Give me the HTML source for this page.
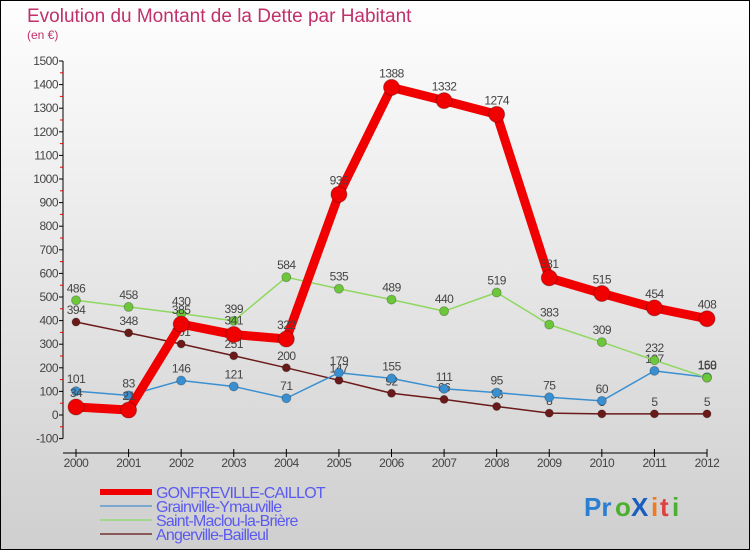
<!DOCTYPE html>
<html><head><meta charset="utf-8"><style>
body{margin:0}
#wrap{position:relative;width:748px;height:548px;border:1px solid #000;background:linear-gradient(#fefefe,#f0f0f0 30%,#d8d8d8 80%,#cfcfcf);overflow:hidden;font-family:"Liberation Sans",sans-serif}
</style></head><body>
<div id="wrap">
<svg id="svg" width="748" height="548" xmlns="http://www.w3.org/2000/svg">
<text x="26" y="21" font-size="19" fill="#c0306a">Evolution du Montant de la Dette par Habitant</text>
<text x="26" y="38" font-size="12" fill="#c0306a">(en €)</text>
<g id="axes"></g><g id="series"></g><g id="legend"></g>
<g font-size="26" font-weight="bold">
<text x="583" y="515" fill="#2a7fd0">Pr</text><text x="614" y="515" fill="#4caf30">o</text><text x="630" y="515" fill="#1a5fc0">X</text><text x="650" y="515" fill="#f07a20">i</text><text x="659" y="515" fill="#e04040">t</text><text x="671" y="515" fill="#4caf30">i</text>
</g>
</svg>
</div>
<script>
const years=["2000","2001","2002","2003","2004","2005","2006","2007","2008","2009","2010","2011","2012"];
const gonfreville=[34,21,385,341,322,935,1388,1332,1274,581,515,454,408];
const grainville=[101,83,146,121,71,179,155,111,95,75,60,187,160];
const saintMaclou=[486,458,430,399,584,535,489,440,519,383,309,232,158];
const angerville=[394,348,301,251,200,147,92,66,36,8,5,5,5];
const yTicks=[-100,0,100,200,300,400,500,600,700,800,900,1000,1100,1200,1300,1400,1500];
const NS="http://www.w3.org/2000/svg";
const X0=75,X1=706,Y0=414,PER=23.6;
const xs=i=>X0+i*(X1-X0)/(years.length-1);
const ys=v=>Y0-v*PER/100;
function mk(t,a,p){const e=document.createElementNS(NS,t);for(const k in a)e.setAttribute(k,a[k]);p.appendChild(e);return e;}
const ax=document.getElementById('axes');
const yAxis=mk('line',{x1:62,y1:ys(1500),x2:62,y2:ys(-100),stroke:'#000','stroke-width':1},ax);


yTicks.forEach(v=>{
 mk('line',{x1:58,x2:62,y1:ys(v),y2:ys(v),stroke:'#000'},ax);
 if(v<1500) mk('line',{x1:59,x2:62,y1:ys(v+50),y2:ys(v+50),stroke:'#e00'},ax);
 const t=mk('text',{x:57,y:ys(v)+4,'font-size':12,'text-anchor':'end',fill:'#444','letter-spacing':'-0.5'},ax);
 t.textContent=v;
 
 
});
const xAxis=mk('line',{x1:62,y1:452,x2:X1,y2:452,stroke:'#000'},ax);


years.forEach((y,i)=>{
 mk('line',{x1:xs(i),x2:xs(i),y1:448,y2:456,stroke:'#000'},ax);
 const t=mk('text',{x:xs(i),y:466,'font-size':12,'text-anchor':'middle',fill:'#444','letter-spacing':'-0.5'},ax);
 t.textContent=y;
 
 
});
const se=document.getElementById('series');
const defs=[
 {d:angerville,c:'#6b1a1a',w:1.5,r:4,name:'angerville-bailleul'},
 {d:grainville,c:'#3a8fd0',w:1.5,r:4.5,name:'grainville-ymauville'},
 {d:saintMaclou,c:'#8fd860',w:1.5,r:4.5,pc:'#6cc83a',name:'saint-maclou-la-briere'},
 {d:gonfreville,c:'#f00000',w:9,r:8,name:'gonfreville-caillot'}
];
defs.forEach(s=>{
 const g=mk('g',{},se);
 
 
 const p=mk('polyline',{points:s.d.map((v,i)=>xs(i)+','+ys(v)).join(' '),fill:'none',stroke:s.c,'stroke-width':s.w,'stroke-linejoin':'round'},g);
 
 
 s.d.forEach((v,i)=>{
  const c=mk('circle',{cx:xs(i),cy:ys(v),r:s.r,fill:s.pc||s.c,stroke:'rgba(0,0,0,0.25)','stroke-width':1},g);
  
  
  const t=mk('text',{x:xs(i),y:ys(v)-(s.w>5?10:8),'font-size':12,'text-anchor':'middle',fill:'#444','letter-spacing':'-0.5'},g);
  t.textContent=v;
  
  
 });
});
const lg=document.getElementById('legend');
[['GONFREVILLE-CAILLOT','#f00000',6],['Grainville-Ymauville','#7aa8d0',2],['Saint-Maclou-la-Brière','#a0d890',2],['Angerville-Bailleul','#8a5a5a',2]].forEach((e,i)=>{
 const g=mk('g',{},lg);
 
 
 const y=491+i*14;
 mk('line',{x1:99,x2:151,y1:y,y2:y,stroke:e[1],'stroke-width':e[2]},g);
 const t=mk('text',{x:155,y:y+6,'font-size':16,fill:'#5a5af0','letter-spacing':'-0.8'},g);
 t.textContent=e[0];
});
</script>
</body></html>
